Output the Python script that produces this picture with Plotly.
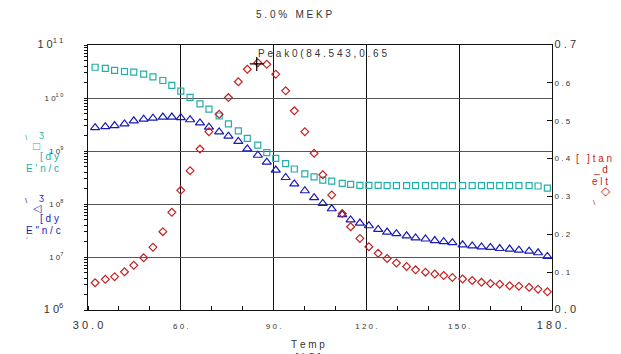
import plotly.graph_objects as go

# ---------------- data ----------------
temp = [32.3, 35.6, 38.6, 41.8, 44.8, 48.0, 51.0, 54.2, 57.1, 60.0,
        63.0, 66.2, 69.1, 72.4, 75.4, 78.6, 81.5, 84.9, 87.8, 90.7,
        93.9, 96.7, 100.1, 103.1, 105.9, 108.8, 112.2, 114.9, 117.9, 120.8,
        123.8, 126.7, 129.7, 133.0, 135.9, 139.1, 142.1, 145.0, 147.8, 151.1,
        154.2, 157.2, 160.1, 163.1, 166.3, 169.3, 172.6, 175.5, 178.5]

log_e1 = [10.58, 10.56, 10.52, 10.50, 10.49, 10.45, 10.40, 10.33, 10.24, 10.13,
          10.01, 9.89, 9.79, 9.66, 9.51, 9.38, 9.24, 9.11, 8.97, 8.86,
          8.76, 8.66, 8.57, 8.51, 8.45, 8.43, 8.39, 8.37, 8.35, 8.35,
          8.35, 8.345, 8.345, 8.345, 8.345, 8.345, 8.345, 8.345, 8.345, 8.345,
          8.345, 8.345, 8.345, 8.345, 8.345, 8.345, 8.345, 8.34, 8.30]

log_e2 = [9.44, 9.46, 9.48, 9.51, 9.57, 9.60, 9.62, 9.64, 9.64, 9.63,
          9.59, 9.53, 9.45, 9.36, 9.28, 9.18, 9.04, 8.92, 8.79, 8.64,
          8.50, 8.38, 8.25, 8.12, 8.01, 7.91, 7.80, 7.70, 7.64, 7.59,
          7.52, 7.47, 7.44, 7.40, 7.36, 7.34, 7.31, 7.29, 7.27, 7.23,
          7.21, 7.19, 7.18, 7.16, 7.15, 7.13, 7.11, 7.08, 7.01]

tan_delta = [0.072, 0.081, 0.088, 0.101, 0.118, 0.138, 0.166, 0.207, 0.258, 0.316,
             0.368, 0.425, 0.471, 0.517, 0.561, 0.603, 0.636, 0.653, 0.649, 0.623,
             0.579, 0.526, 0.471, 0.414, 0.357, 0.304, 0.255, 0.220, 0.189, 0.167,
             0.150, 0.136, 0.124, 0.115, 0.106, 0.100, 0.095, 0.091, 0.086, 0.082,
             0.078, 0.073, 0.070, 0.068, 0.064, 0.063, 0.060, 0.055, 0.048]

e1 = [10 ** v for v in log_e1]
e2 = [10 ** v for v in log_e2]

peak_x = 84.543
peak_y = 0.65

NB = "\u00a0"


def sp(s):
    """letter-spaced text using non-breaking spaces"""
    return NB.join(list(s))


x_ticks = [30, 60, 90, 120, 150, 180]
x_labels = ["30.0", "60.", "90.", "120.", "150.", "180."]
x_ticktext = []
for i, t in enumerate(x_labels):
    if i in (0, len(x_labels) - 1):
        x_ticktext.append("<span style='font-size:11px'>" + sp(t) + "</span>")
    else:
        x_ticktext.append(sp(t))

y_ticks = [1e6, 1e7, 1e8, 1e9, 1e10, 1e11]
y_exps = ["6", "7", "8", "9", "10", "11"]
y_ticktext = []
for i, e in enumerate(y_exps):
    t = "1" + NB + "0<sup>" + sp(e) + "</sup>"
    if i in (0, len(y_exps) - 1):
        t = "<span style='font-size:11px'>" + t + "</span>"
    y_ticktext.append(t)

y2_ticks = [0.0, 0.1, 0.2, 0.3, 0.4, 0.5, 0.6, 0.7]
y2_labels = ["0.0", "0.1", "0.2", "0.3", "0.4", "0.5", "0.6", "0.7"]
y2_ticktext = []
for i, t in enumerate(y2_labels):
    if i in (0, len(y2_labels) - 1):
        y2_ticktext.append("<span style='font-size:11px'>" + sp(t) + "</span>")
    else:
        y2_ticktext.append(sp(t))

CYAN = "#22AFAA"
BLUE = "#1A1AB4"
RED = "#C42222"
FONT = "Arial, Liberation Sans, sans-serif"

fig = go.Figure()
fig.add_trace(go.Scatter(x=temp, y=e1, mode="markers", name="E'",
                         marker=dict(symbol="square-open", size=6, color=CYAN,
                                     line=dict(width=1.2, color=CYAN))))
fig.add_trace(go.Scatter(x=temp, y=e2, mode="markers", name="E''",
                         marker=dict(symbol="triangle-up-open", size=8, color=BLUE,
                                     line=dict(width=1.2, color=BLUE))))
fig.add_trace(go.Scatter(x=temp, y=tan_delta, mode="markers", name="tan delta",
                         yaxis="y2",
                         marker=dict(symbol="diamond-open", size=6, color=RED,
                                     line=dict(width=1.2, color=RED))))
fig.add_trace(go.Scatter(x=[peak_x], y=[peak_y], mode="markers", yaxis="y2",
                         marker=dict(symbol="cross-thin-open", size=10, color="black",
                                     line=dict(width=1.2, color="black"))))

fig.update_layout(
    width=621, height=354,
    margin=dict(l=88, r=69, t=45, b=44),
    paper_bgcolor="white", plot_bgcolor="white",
    showlegend=False,
    font=dict(family=FONT, size=8, color="#333333"),
    xaxis=dict(range=[30, 180], tickvals=x_ticks, ticktext=x_ticktext,
               showgrid=True, gridcolor="#111111", gridwidth=1,
               showline=True, linecolor="#111111", linewidth=1, mirror=True,
               ticks="", ticklabelstandoff=8, zeroline=False,
               minor=dict(dtick=10, ticks="inside", ticklen=4, tickcolor="#111111", showgrid=False)),
    yaxis=dict(type="log", range=[6, 11], tickvals=y_ticks, ticktext=y_ticktext,
               showgrid=True, gridcolor="#555555", gridwidth=1,
               showline=True, linecolor="#111111", linewidth=1,
               ticks="", ticklabelstandoff=22, zeroline=False,
               minor=dict(dtick="D1", ticks="outside", ticklen=3, tickcolor="#111111", showgrid=False)),
    yaxis2=dict(range=[0, 0.7], overlaying="y", side="right",
                tickvals=y2_ticks, ticktext=y2_ticktext,
                showgrid=False, showline=True, linecolor="#111111", linewidth=1,
                ticks="inside", ticklen=5, tickcolor="#111111", zeroline=False),
)

# title
fig.add_annotation(text=sp("5.0%") + NB * 3 + sp("MEKP"), xref="paper", yref="paper",
                   x=(294 - 88) / 464, y=1.0, yshift=38, showarrow=False, xanchor="center",
                   font=dict(size=10, color="#333333"))
# peak label
fig.add_annotation(text=sp("Peak0(84.543,0.65"), x=peak_x, y=peak_y, yref="y2",
                   xanchor="left", yanchor="middle", yshift=10, xshift=-1, showarrow=False,
                   font=dict(size=10, color="#333333"))
# x axis title
fig.add_annotation(text=sp("Temp") + "<br>" + sp("[°C]"), xref="paper", yref="paper",
                   x=(308 - 88) / 464, y=0,
                   yshift=-27, yanchor="top", showarrow=False,
                   font=dict(size=10, color="#333333"))


def lab(txt, px, py, color, size=9):
    fig.add_annotation(text=txt, xref="paper", yref="paper",
                       x=(px - 88) / 464, y=(310 - py) / 265,
                       xanchor="left", yanchor="middle", showarrow=False,
                       font=dict(size=size, color=color))


# left labels (E')
lab("\\", 23, 137, CYAN, 8)
lab("ʒ", 37, 134, CYAN, 9)
lab("□", 31, 146, CYAN, 12)
lab(sp("[dy"), 38, 156, CYAN, 10)
lab(sp("E'n/c"), 24, 168, CYAN, 10)
# left labels (E'')
lab("\\", 23, 200, BLUE, 8)
lab("ʒ", 37, 197, BLUE, 9)
lab("◁", 31, 208, BLUE, 11)
lab(sp("[dy"), 38, 218, BLUE, 10)
lab(sp("E\"n/c"), 24, 230, BLUE, 10)
lab("ʻ", 24, 240, BLUE, 8)
# right labels (tan delta)
lab(sp("[ ]tan"), 574, 158, RED, 10)
lab(sp("_d"), 591, 169, RED, 10)
lab(sp("elt"), 590, 181, RED, 10)
lab("◇", 599, 191, RED, 12)
lab("\\", 591, 202, RED, 8)

fig.write_html("out.html")
